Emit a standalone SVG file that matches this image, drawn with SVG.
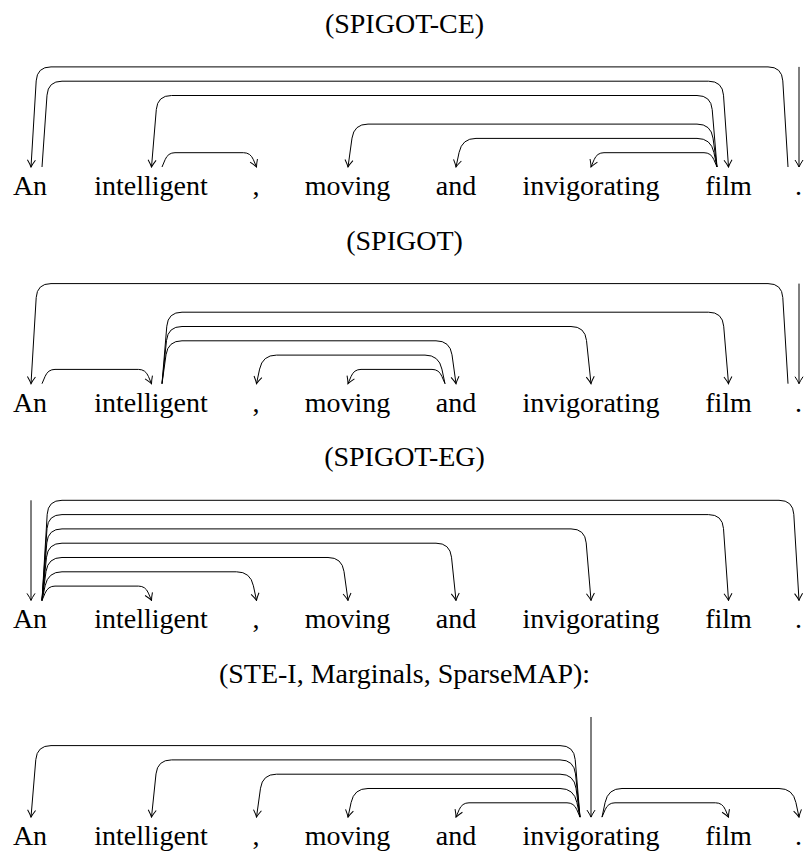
<svg xmlns="http://www.w3.org/2000/svg" width="809" height="861" viewBox="0 0 809 861">
<style>
text{font-family:'Liberation Serif','Times New Roman',Tinos,'Noto Serif',FreeSerif,serif;font-size:28px;fill:#000;text-anchor:middle}
.e path{fill:none;stroke:#000;stroke-width:1;marker-end:url(#ah)}
</style>
<defs>
<marker id="ah" markerUnits="userSpaceOnUse" viewBox="-9 -5 10 10" markerWidth="10" markerHeight="10" refX="0" refY="0" orient="auto">
<path d="M -7 -4 Q -2.5 -1 0 0 Q -2.5 1 -7 4" fill="none" stroke="#000" stroke-width="1"/>
</marker>
<g id="words">
<g id="w-an"><text x="30" y="195">An</text></g>
<g id="w-intelligent"><text x="151" y="195">intelligent</text></g>
<g id="w-comma"><text x="256" y="195">,</text></g>
<g id="w-moving"><text x="347.5" y="195">moving</text></g>
<g id="w-and"><text x="456" y="195">and</text></g>
<g id="w-invigorating"><text x="591" y="195">invigorating</text></g>
<g id="w-film"><text x="728.5" y="195">film</text></g>
<g id="w-dot"><text x="798.5" y="195">.</text></g>
</g>
</defs>

<g id="panel1">
<g id="title1"><text x="404.5" y="33">(SPIGOT-CE)</text></g>
<g id="nodes1"><use href="#words"/></g>
<g id="connectors1" class="e">
<path d="M 799 66.9 L 799 167"/>
<path d="M 788 167 L 782.8 80.9 Q 782 66.9 768 66.9 L 51 66.9 Q 37 66.9 36.2 80.9 L 31 167"/>
<path d="M 42 167 L 47 95.2 Q 48 81.2 62 81.2 L 708.5 81.2 Q 722.5 81.2 723.5 95.2 L 728.5 167"/>
<path d="M 717 167 L 712.2 109.5 Q 711 95.5 697 95.5 L 171.5 95.5 Q 157.5 95.5 156.3 109.5 L 151.5 167"/>
<path d="M 717 167 L 713 138.1 Q 711 124.1 697 124.1 L 368 124.1 Q 354 124.1 352 138.1 L 348 167"/>
<path d="M 717 167 L 713.9 152.4 Q 711 138.4 697 138.4 L 476 138.4 Q 462 138.4 459.1 152.4 L 456 167"/>
<path d="M 717 167 L 713.9 159.7 Q 711 152.7 704 152.7 L 604 152.7 Q 597 152.7 594.1 159.7 L 591 167"/>
<path d="M 162 167 L 165.1 159.7 Q 168 152.7 175 152.7 L 243.5 152.7 Q 250.5 152.7 253.4 159.7 L 256.5 167"/>
</g>
</g>

<g id="panel2" transform="translate(0,216.7)">
<g id="title2"><text x="404.5" y="33">(SPIGOT)</text></g>
<g id="nodes2"><use href="#words"/></g>
<g id="connectors2" class="e">
<path d="M 799 66.9 L 799 167"/>
<path d="M 788 167 L 782.8 80.9 Q 782 66.9 768 66.9 L 51 66.9 Q 37 66.9 36.2 80.9 L 31 167"/>
<path d="M 42 167 L 45.1 159.7 Q 48 152.7 55 152.7 L 138.5 152.7 Q 145.5 152.7 148.4 159.7 L 151.5 167"/>
<path d="M 162 167 L 166.8 109.5 Q 168 95.5 182 95.5 L 708.5 95.5 Q 722.5 95.5 723.7 109.5 L 728.5 167"/>
<path d="M 162 167 L 166.5 123.8 Q 168 109.8 182 109.8 L 571 109.8 Q 585 109.8 586.5 123.8 L 591 167"/>
<path d="M 162 167 L 166 138.1 Q 168 124.1 182 124.1 L 436 124.1 Q 450 124.1 452 138.1 L 456 167"/>
<path d="M 445 167 L 441.9 152.4 Q 439 138.4 425 138.4 L 276.5 138.4 Q 262.5 138.4 259.6 152.4 L 256.5 167"/>
<path d="M 445 167 L 441.9 159.7 Q 439 152.7 432 152.7 L 361 152.7 Q 354 152.7 351.1 159.7 L 348 167"/>
</g>
</g>

<g id="panel3" transform="translate(0,433.4)">
<g id="title3"><text x="404.5" y="33">(SPIGOT-EG)</text></g>
<g id="nodes3"><use href="#words"/></g>
<g id="connectors3" class="e">
<path d="M 31 66.9 L 31 167"/>
<path d="M 42 167 L 45.1 159.7 Q 48 152.7 55 152.7 L 138.5 152.7 Q 145.5 152.7 148.4 159.7 L 151.5 167"/>
<path d="M 42 167 L 45.1 152.4 Q 48 138.4 62 138.4 L 236.5 138.4 Q 250.5 138.4 253.4 152.4 L 256.5 167"/>
<path d="M 42 167 L 46 138.1 Q 48 124.1 62 124.1 L 328 124.1 Q 342 124.1 344 138.1 L 348 167"/>
<path d="M 42 167 L 46.5 123.8 Q 48 109.8 62 109.8 L 436 109.8 Q 450 109.8 451.5 123.8 L 456 167"/>
<path d="M 42 167 L 46.8 109.5 Q 48 95.5 62 95.5 L 571 95.5 Q 585 95.5 586.2 109.5 L 591 167"/>
<path d="M 42 167 L 47 95.2 Q 48 81.2 62 81.2 L 708.5 81.2 Q 722.5 81.2 723.5 95.2 L 728.5 167"/>
<path d="M 42 167 L 47.2 80.9 Q 48 66.9 62 66.9 L 779 66.9 Q 793 66.9 793.8 80.9 L 799 167"/>
</g>
</g>

<g id="panel4" transform="translate(0,650.1)">
<g id="title4"><text x="404.5" y="33">(STE-I, Marginals, SparseMAP):</text></g>
<g id="nodes4"><use href="#words"/></g>
<g id="connectors4" class="e">
<path d="M 591 66.9 L 591 167"/>
<path d="M 580 167 L 575.2 109.5 Q 574 95.5 560 95.5 L 51 95.5 Q 37 95.5 35.8 109.5 L 31 167"/>
<path d="M 580 167 L 575.5 123.8 Q 574 109.8 560 109.8 L 171.5 109.8 Q 157.5 109.8 156 123.8 L 151.5 167"/>
<path d="M 580 167 L 576 138.1 Q 574 124.1 560 124.1 L 276.5 124.1 Q 262.5 124.1 260.5 138.1 L 256.5 167"/>
<path d="M 580 167 L 576.9 152.4 Q 574 138.4 560 138.4 L 368 138.4 Q 354 138.4 351.1 152.4 L 348 167"/>
<path d="M 580 167 L 576.9 159.7 Q 574 152.7 567 152.7 L 469 152.7 Q 462 152.7 459.1 159.7 L 456 167"/>
<path d="M 602 167 L 605.1 159.7 Q 608 152.7 615 152.7 L 715.5 152.7 Q 722.5 152.7 725.4 159.7 L 728.5 167"/>
<path d="M 602 167 L 605.1 152.4 Q 608 138.4 622 138.4 L 779 138.4 Q 793 138.4 795.9 152.4 L 799 167"/>
</g>
</g>
</svg>
